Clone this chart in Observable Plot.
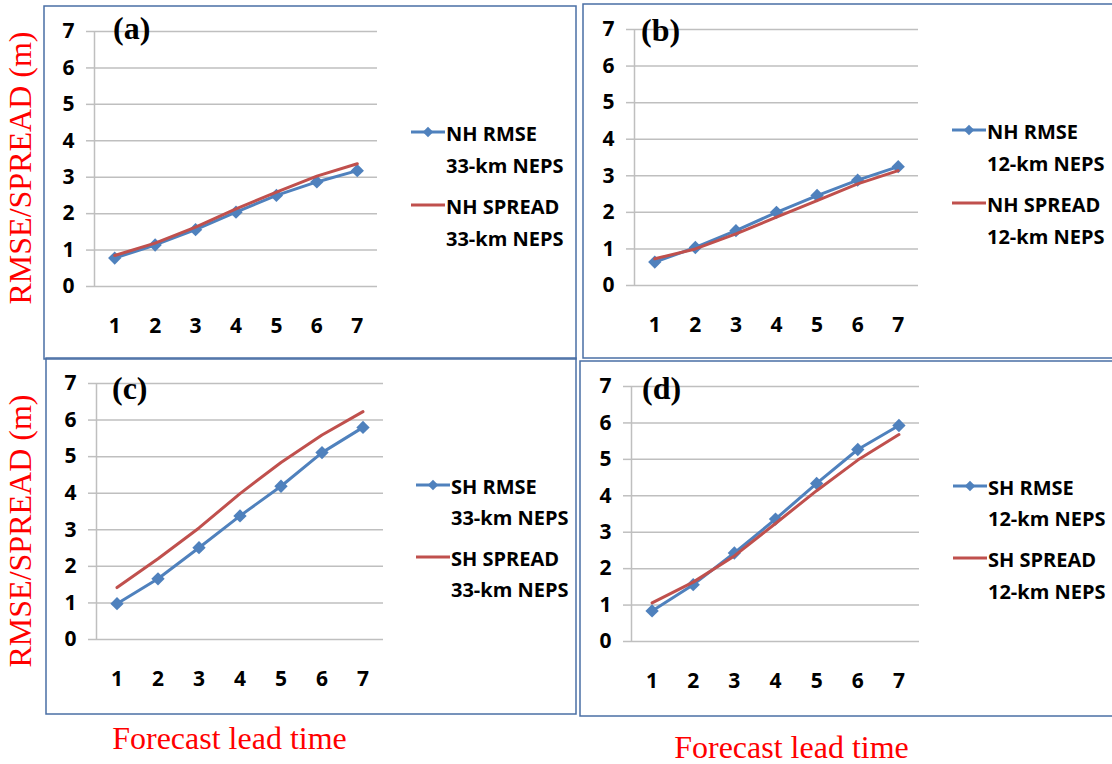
<!DOCTYPE html>
<html><head><meta charset="utf-8">
<script src="https://cdn.jsdelivr.net/npm/d3@7"></script>
<script src="https://cdn.jsdelivr.net/npm/@observablehq/plot@0.6"></script>
<style>
body{margin:0;background:#fff;}
#root{position:relative;width:1112px;height:764px;overflow:hidden;background:#fff;}
#root svg{position:absolute;}
</style></head><body><div id="root"></div>
<script>
// ---- data ----
const leadTimes = [1, 2, 3, 4, 5, 6, 7];
const yTicks = [0, 1, 2, 3, 4, 5, 6, 7];
const nhRmse33   = [0.78, 1.14, 1.56, 2.04, 2.50, 2.87, 3.18];
const nhSpread33 = [0.85, 1.19, 1.63, 2.13, 2.59, 3.03, 3.37];
const nhRmse12   = [0.64, 1.04, 1.50, 2.00, 2.46, 2.88, 3.25];
const nhSpread12 = [0.73, 1.00, 1.41, 1.87, 2.32, 2.78, 3.14];
const shRmse33   = [0.98, 1.66, 2.51, 3.38, 4.19, 5.11, 5.80];
const shSpread33 = [1.42, 2.21, 3.05, 3.99, 4.84, 5.59, 6.23];
const shRmse12   = [0.84, 1.56, 2.43, 3.36, 4.34, 5.27, 5.93];
const shSpread12 = [1.06, 1.63, 2.35, 3.24, 4.14, 4.98, 5.68];
const panelLetters = ["(a)", "(b)", "(c)", "(d)"];
const rmseNames = ["NH RMSE", "NH RMSE", "SH RMSE", "SH RMSE"];
const spreadNames = ["NH SPREAD", "NH SPREAD", "SH SPREAD", "SH SPREAD"];
const systems = ["33-km NEPS", "12-km NEPS", "33-km NEPS", "12-km NEPS"];
const yTitle = "RMSE/SPREAD (m)";
const xTitle = "Forecast lead time";
const rmseSeries = [nhRmse33, nhRmse12, shRmse33, shRmse12];
const spreadSeries = [nhSpread33, nhSpread12, shSpread33, shSpread12];

// ---- styles / layout ----
const BLUE = "#4F81BD", RED = "#C0504D", GRID = "#BFBFBF", BORDER = "#4a6fa5";
const SANS = "'Open Sans', sans-serif", SERIF = "'Liberation Serif', 'Times New Roman', serif";
const FW = "bold", FS = 21, LFS = 20;
const layout = [
  {box:[44,6,576,359],   frame:[94,377,31,286],   leg:{x:411, rows:[133,165,206,238]}, letter:[113,39],  ytitle:[20,168]},
  {box:[583,4,1114,358], frame:[634,918,29,285],  leg:{x:952, rows:[131,163,204,236]}, letter:[641,41]},
  {box:[46,358,576,714], frame:[96,383,383,639],  leg:{x:416, rows:[486,517,558,589]}, letter:[112,399], ytitle:[20,531], xtitle:[229.5,749]},
  {box:[580,361,1114,716], frame:[631,919,386,641], leg:{x:953, rows:[487,518,559,591]}, letter:[642,399], xtitle:[791.5,758]}
];

const root = document.getElementById("root");
const mL = 60, mR = 10, mT = 10, mB = 70;

layout.forEach((L, i) => {
  const [fl, fr, ft, fb] = L.frame;
  const rmse = leadTimes.map((t, j) => ({t, v: rmseSeries[i][j]}));
  const spread = leadTimes.map((t, j) => ({t, v: spreadSeries[i][j]}));
  const chart = Plot.plot({
    width: mL + (fr - fl) + mR,
    height: mT + (fb - ft) + mB,
    marginLeft: mL, marginRight: mR, marginTop: mT, marginBottom: mB,
    style: {fontFamily: SANS, fontSize: FS + "px", fontWeight: FW, background: "transparent", overflow: "visible", color: "#000"},
    x: {domain: [0.5, 7.5], label: null},
    y: {domain: [0, 7], label: null},
    marks: [
      Plot.gridY(yTicks, {stroke: GRID, strokeOpacity: 1, strokeWidth: 1.5}),
      Plot.axisY(yTicks, {tickSize: 8, tickPadding: 12, stroke: GRID, strokeWidth: 1.5, fill: "#000", fontSize: FS, fontWeight: FW, label: null}),
      Plot.axisX(leadTimes, {tickSize: 0, tickPadding: 32, fill: "#000", fontSize: FS, fontWeight: FW, label: null}),
      Plot.ruleX([0.5], {y1: 0, y2: 7, stroke: GRID, strokeWidth: 1.5}),
      Plot.line(rmse, {x: "t", y: "v", stroke: BLUE, strokeWidth: 3}),
      Plot.dot(rmse, {x: "t", y: "v", symbol: "diamond2", fill: BLUE, r: 6}),
      Plot.line(spread, {x: "t", y: "v", stroke: RED, strokeWidth: 3})
    ]
  });
  chart.style.left = (fl - mL) + "px";
  chart.style.top = (ft - mT) + "px";
  root.appendChild(chart);
});

// overlay: borders, titles, legends, panel letters
const ov = d3.select(root).append("svg").attr("width", 1112).attr("height", 764).style("left", "0px").style("top", "0px");
layout.forEach((L, i) => {
  const [x0, y0, x1, y1] = L.box;
  ov.append("rect").attr("x", x0).attr("y", y0).attr("width", x1 - x0).attr("height", y1 - y0)
    .attr("fill", "none").attr("stroke", BORDER).attr("stroke-width", 1.5);
  ov.append("text").attr("x", L.letter[0]).attr("y", L.letter[1]).text(panelLetters[i])
    .attr("font-family", SERIF).attr("font-weight", "bold").attr("font-size", 32).attr("fill", "#000");
  const lx = L.leg.x, r = L.leg.rows;
  ov.append("line").attr("x1", lx).attr("x2", lx + 34).attr("y1", r[0] - 1).attr("y2", r[0] - 1).attr("stroke", BLUE).attr("stroke-width", 3);
  ov.append("path").attr("d", d3.symbol(d3.symbolDiamond2, 70)()).attr("transform", `translate(${lx + 17},${r[0] - 1})`).attr("fill", BLUE);
  ov.append("line").attr("x1", lx).attr("x2", lx + 34).attr("y1", r[2] - 1).attr("y2", r[2] - 1).attr("stroke", RED).attr("stroke-width", 3);
  const labels = [rmseNames[i], systems[i], spreadNames[i], systems[i]];
  labels.forEach((s, k) => {
    ov.append("text").attr("x", lx + 35).attr("y", r[k]).attr("dominant-baseline", "central").text(s)
      .attr("font-family", SANS).attr("font-weight", FW).attr("font-size", LFS).attr("fill", "#000");
  });
  if (L.ytitle) {
    ov.append("text").attr("transform", `translate(${L.ytitle[0]},${L.ytitle[1]}) rotate(-90)`)
      .attr("text-anchor", "middle").attr("dominant-baseline", "central").text(yTitle)
      .attr("font-family", SERIF).attr("font-size", 32).attr("fill", "#ff0000");
  }
  if (L.xtitle) {
    ov.append("text").attr("x", L.xtitle[0]).attr("y", L.xtitle[1]).attr("text-anchor", "middle").text(xTitle)
      .attr("font-family", SERIF).attr("font-size", 32).attr("fill", "#ff0000");
  }
});
</script></body></html>
